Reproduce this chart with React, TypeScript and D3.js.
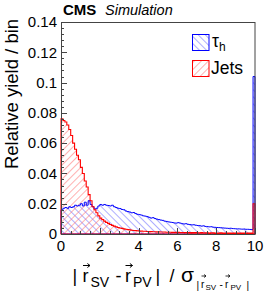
import React from "react";
import * as d3 from "d3";

// bin lower edges 0.0, 0.1, ..., 9.9 (last bin holds overflow)
const binEdges = d3.range(0, 10.0001, 0.1).map((v) => +v.toFixed(1));

const jets = [
	0.076, 0.075, 0.074, 0.072, 0.069, 0.065, 0.06, 0.056, 0.052, 0.049,
	0.044, 0.04, 0.035, 0.031, 0.026, 0.022, 0.018, 0.016, 0.014, 0.012,
	0.0105, 0.0095, 0.0085, 0.0077, 0.007, 0.0063, 0.0057, 0.0052, 0.0047, 0.0043,
	0.004, 0.0037, 0.0034, 0.0031, 0.0029, 0.0027, 0.0025, 0.0023, 0.0022, 0.0021,
	0.002, 0.0019, 0.0018, 0.0018, 0.0017, 0.0016, 0.0016, 0.0015, 0.0015, 0.0014,
	0.0014, 0.0013, 0.0013, 0.0013, 0.0012, 0.0012, 0.0012, 0.0011, 0.0011, 0.0011,
	0.0011, 0.001, 0.001, 0.001, 0.001, 0.0009, 0.0009, 0.0009, 0.0009, 0.0009,
	0.0008, 0.0008, 0.0009, 0.0008, 0.0008, 0.0008, 0.0007, 0.0008, 0.0008, 0.0007,
	0.0007, 0.0007, 0.0008, 0.0007, 0.0007, 0.0007, 0.0007, 0.0006, 0.0007, 0.0007,
	0.0007, 0.0006, 0.0007, 0.0007, 0.0006, 0.0006, 0.0007, 0.0006, 0.0006, 0.02,
];

const taus = [
	0.016, 0.017, 0.0175, 0.017, 0.018, 0.0175, 0.018, 0.019, 0.0185, 0.019,
	0.02, 0.0185, 0.021, 0.019, 0.022, 0.0195, 0.018, 0.0165, 0.017, 0.0185,
	0.0195, 0.019, 0.0195, 0.019, 0.0188, 0.0185, 0.019, 0.018, 0.0175, 0.017,
	0.0168, 0.0162, 0.016, 0.0152, 0.0148, 0.0145, 0.014, 0.0142, 0.0135, 0.013,
	0.0128, 0.0125, 0.012, 0.0118, 0.0115, 0.011, 0.0105, 0.0108, 0.0102, 0.0098,
	0.0095, 0.0092, 0.009, 0.0085, 0.0083, 0.008, 0.0078, 0.0076, 0.0073, 0.0072,
	0.0075, 0.0072, 0.0068, 0.0066, 0.0068, 0.0064, 0.0062, 0.006, 0.0061, 0.0058,
	0.0056, 0.0055, 0.0052, 0.0054, 0.005, 0.0049, 0.0047, 0.0048, 0.0045, 0.0044,
	0.0043, 0.0042, 0.0041, 0.004, 0.0039, 0.0038, 0.0037, 0.0038, 0.0036, 0.0035,
	0.0034, 0.0034, 0.0033, 0.0032, 0.0033, 0.0031, 0.0031, 0.003, 0.003, 0.104,
];

const yTicks = [0, 0.02, 0.04, 0.06, 0.08, 0.1, 0.12, 0.14];
const xTicks = [0, 2, 4, 6, 8, 10];

const W = 266;
const H = 291;
const m = { top: 22, right: 11, bottom: 57, left: 61 };
const font = "'Liberation Sans', Arial, Helvetica, sans-serif";
const frame = "#444";

// x-axis title pieces: [text, x, baseline, size]
const titleParts: [string, number, number, number][] = [
	["|", 72.5, 282, 18],
	["r", 82.5, 282, 18],
	["SV", 90.5, 287, 14],
	["-", 115.5, 282, 18],
	["r", 125, 282, 18],
	["PV", 133, 287, 14],
	["|", 155.5, 282, 18],
	["/", 169.5, 282, 18],
	["σ", 181, 282, 21],
	["|", 196.5, 289, 10],
	["r", 201, 287.5, 10],
	["SV", 205.5, 290, 8],
	["-", 219.5, 287.5, 10],
	["r", 225, 287.5, 10],
	["PV", 230.5, 290, 8],
	["|", 246.5, 289, 10],
];
// vector arrows over the r's: [x start, x end, y]
const vecArrows: [number, number, number][] = [
	[83, 90, 265.5],
	[125.5, 132.5, 265.5],
	[201.5, 206, 276],
	[225.5, 230, 276],
];

export default function App() {
	const x = d3.scaleLinear().domain([0, 10]).range([m.left, W - m.right]);
	const y = d3.scaleLinear().domain([0, 0.14]).range([H - m.bottom, m.top]);

	const area = d3
		.area<[number, number]>()
		.curve(d3.curveStepAfter)
		.x((d) => x(d[0]))
		.y0(y(0))
		.y1((d) => y(d[1]));

	const pts = (vals: number[]): [number, number][] => [
		...vals.map((v, i) => [binEdges[i], v] as [number, number]),
		[10, vals[vals.length - 1]],
	];

	const yMinor = d3.range(0, 0.1401, 0.004);
	const xMinor = d3.range(0, 10.01, 0.5);

	return (
		<svg
			width={W}
			height={H}
			style={{ position: "fixed", left: 0, top: 0, background: "#fff" }}
		>
			<defs>
				<pattern id="hatchTau" patternUnits="userSpaceOnUse" width={5} height={5} patternTransform="rotate(-45)">
					<line x1={0} y1={0} x2={0} y2={5} stroke="#6060ff" strokeWidth={1} />
				</pattern>
				<pattern id="hatchJet" patternUnits="userSpaceOnUse" width={5} height={5} patternTransform="rotate(45)">
					<line x1={0} y1={0} x2={0} y2={5} stroke="#ff6464" strokeWidth={1} />
				</pattern>
			</defs>

			<path d={area(pts(taus)) ?? ""} fill="url(#hatchTau)" />
			<path d={area(pts(jets)) ?? ""} fill="url(#hatchJet)" />
			<path d={area(pts(taus)) ?? ""} fill="none" stroke="#0000ff" strokeWidth={1} />
			<path d={area(pts(jets)) ?? ""} fill="none" stroke="#ff0000" strokeWidth={1.1} />

			{/* frame */}
			<rect
				x={m.left + 0.5}
				y={m.top + 0.5}
				width={W - m.right - m.left - 0.5}
				height={H - m.bottom - m.top}
				fill="none"
				stroke={frame}
			/>

			{/* y ticks */}
			{yMinor.map((t, i) => (
				<line key={"ym" + i} x1={m.left} x2={m.left + 3} y1={Math.round(y(t)) + 0.5} y2={Math.round(y(t)) + 0.5} stroke={frame} />
			))}
			{yTicks.map((t) => (
				<g key={"y" + t}>
					<line x1={m.left} x2={m.left + 6} y1={Math.round(y(t)) + 0.5} y2={Math.round(y(t)) + 0.5} stroke={frame} />
					<text x={57} y={y(t) + 5.3} textAnchor="end" fontFamily={font} fontSize={15}>
						{t === 0 ? "0" : String(+t.toFixed(2))}
					</text>
				</g>
			))}

			{/* x ticks */}
			{xMinor.map((t, i) => (
				<line key={"xm" + i} x1={Math.round(x(t)) + 0.5} x2={Math.round(x(t)) + 0.5} y1={y(0)} y2={y(0) - 3} stroke={frame} />
			))}
			{xTicks.map((t) => (
				<g key={"x" + t}>
					<line x1={Math.round(x(t)) + 0.5} x2={Math.round(x(t)) + 0.5} y1={y(0)} y2={y(0) - 6} stroke={frame} />
					<text x={x(t)} y={251} textAnchor="middle" fontFamily={font} fontSize={15}>
						{t}
					</text>
				</g>
			))}

			{/* axis titles */}
			<text
				transform="translate(18,94) rotate(-90)"
				textAnchor="middle"
				fontFamily={font}
				fontSize={18.5}
			>
				Relative yield / bin
			</text>
			{titleParts.map(([s, tx, ty, fs], i) => (
				<text key={"t" + i} x={tx} y={ty} fontFamily={font} fontSize={fs}>
					{s}
				</text>
			))}
			{vecArrows.map(([x1, x2, ay], i) => {
				const h = i < 2 ? 2 : 1.5;
				return (
					<path
						key={"a" + i}
						d={`M${x1},${ay}H${x2}M${x2 - h * 1.3},${ay - h}L${x2},${ay}L${x2 - h * 1.3},${ay + h}`}
						fill="none"
						stroke="#000"
						strokeWidth={i < 2 ? 1 : 0.8}
					/>
				);
			})}

			{/* CMS label */}
			<text x={63} y={15} fontFamily={font} fontSize={15} fontWeight="bold">
				CMS
			</text>
			<text x={105} y={15} fontFamily={font} fontSize={14.5} fontStyle="italic">
				Simulation
			</text>

			{/* legend */}
			<rect x={192.5} y={34.5} width={16.5} height={16} fill="url(#hatchTau)" stroke="#0000ff" />
			<text x={212} y={47} fontFamily={font} fontSize={17.5}>
				τ<tspan fontSize={12} dy={4}>h</tspan>
			</text>
			<rect x={192.5} y={60.5} width={16.5} height={16} fill="url(#hatchJet)" stroke="#ff0000" />
			<text x={211} y={74} fontFamily={font} fontSize={17.5}>
				Jets
			</text>
		</svg>
	);
}
